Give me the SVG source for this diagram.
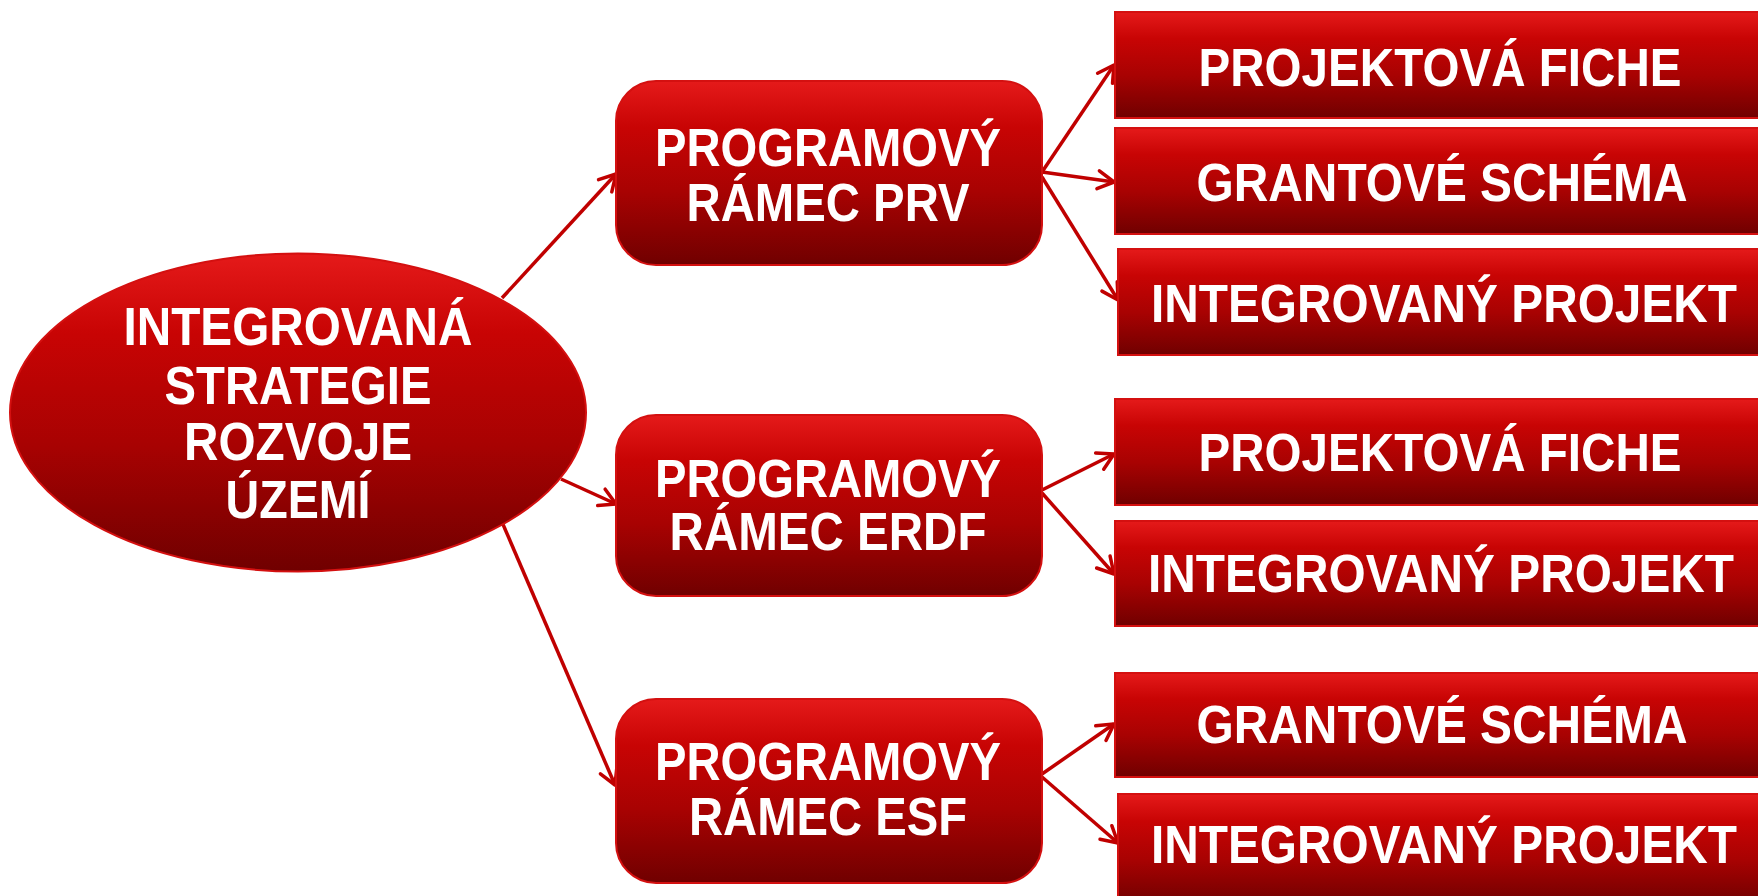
<svg xmlns="http://www.w3.org/2000/svg" width="1758" height="896" viewBox="0 0 1758 896">
<defs>
<linearGradient id="g" x1="0" y1="0" x2="0" y2="1">
<stop offset="0" stop-color="#e51a1a"/>
<stop offset="0.25" stop-color="#c80404"/>
<stop offset="0.6" stop-color="#a80202"/>
<stop offset="1" stop-color="#700000"/>
</linearGradient>
<marker id="a" markerUnits="userSpaceOnUse" viewBox="0 0 24 24" refX="21" refY="12" markerWidth="24" markerHeight="24" orient="auto">
<path d="M5,3 L21,12 L5,21" fill="none" stroke="#c00000" stroke-width="3.5" stroke-linecap="round" stroke-linejoin="round"/>
</marker>
</defs>
<style>
.n{fill:url(#g);stroke:#d41010;stroke-width:2}
.t{font-family:"Liberation Sans",Arial,sans-serif;font-weight:bold;font-size:53px;fill:#fff;text-anchor:middle}
.c line{stroke:#c00000;stroke-width:3.5;fill:none;marker-end:url(#a)}
</style>
<rect width="1758" height="896" fill="#fff"/>
<g class="c" id="connectors">
<line x1="502" y1="298" x2="616" y2="174"/>
<line x1="561" y1="479" x2="616" y2="504"/>
<line x1="502" y1="522" x2="615" y2="785"/>
<line x1="1042" y1="172" x2="1114" y2="65"/>
<line x1="1042" y1="172" x2="1114" y2="182"/>
<line x1="1042" y1="177" x2="1118" y2="300"/>
<line x1="1042" y1="490" x2="1114" y2="454"/>
<line x1="1042" y1="493" x2="1114" y2="574"/>
<line x1="1042" y1="774" x2="1114" y2="724"/>
<line x1="1042" y1="777" x2="1118" y2="843"/>
</g>
<g id="root">
<ellipse class="n" cx="298" cy="412.5" rx="288" ry="159"/>
<text class="t"><tspan x="298" y="345" textLength="349" lengthAdjust="spacingAndGlyphs">INTEGROVANÁ</tspan><tspan x="298" y="404" textLength="267" lengthAdjust="spacingAndGlyphs">STRATEGIE</tspan><tspan x="298" y="460" textLength="228" lengthAdjust="spacingAndGlyphs">ROZVOJE</tspan><tspan x="298" y="518" textLength="145" lengthAdjust="spacingAndGlyphs">ÚZEMÍ</tspan></text>
</g>
<g id="prv">
<rect class="n" x="616" y="81" width="426" height="184" rx="40"/>
<text class="t"><tspan x="828" y="166" textLength="346" lengthAdjust="spacingAndGlyphs">PROGRAMOVÝ</tspan><tspan x="828" y="221" textLength="283" lengthAdjust="spacingAndGlyphs">RÁMEC PRV</tspan></text>
</g>
<g id="erdf">
<rect class="n" x="616" y="415" width="426" height="181" rx="40"/>
<text class="t"><tspan x="828" y="497" textLength="346" lengthAdjust="spacingAndGlyphs">PROGRAMOVÝ</tspan><tspan x="828" y="550" textLength="317" lengthAdjust="spacingAndGlyphs">RÁMEC ERDF</tspan></text>
</g>
<g id="esf">
<rect class="n" x="616" y="699" width="426" height="184" rx="40"/>
<text class="t"><tspan x="828" y="780" textLength="346" lengthAdjust="spacingAndGlyphs">PROGRAMOVÝ</tspan><tspan x="828" y="835" textLength="278" lengthAdjust="spacingAndGlyphs">RÁMEC ESF</tspan></text>
</g>
<g id="prv-pf">
<rect class="n" x="1115" y="12" width="660" height="106"/>
<text class="t" x="1440" y="86" textLength="483" lengthAdjust="spacingAndGlyphs">PROJEKTOVÁ FICHE</text>
</g>
<g id="prv-gs">
<rect class="n" x="1115" y="128" width="660" height="106"/>
<text class="t" x="1442" y="201" textLength="491" lengthAdjust="spacingAndGlyphs">GRANTOVÉ SCHÉMA</text>
</g>
<g id="prv-ip">
<rect class="n" x="1118" y="249" width="660" height="106"/>
<text class="t" x="1444" y="322" textLength="586" lengthAdjust="spacingAndGlyphs">INTEGROVANÝ PROJEKT</text>
</g>
<g id="erdf-pf">
<rect class="n" x="1115" y="399" width="660" height="106"/>
<text class="t" x="1440" y="471" textLength="483" lengthAdjust="spacingAndGlyphs">PROJEKTOVÁ FICHE</text>
</g>
<g id="erdf-ip">
<rect class="n" x="1115" y="521" width="660" height="105"/>
<text class="t" x="1441" y="592" textLength="586" lengthAdjust="spacingAndGlyphs">INTEGROVANÝ PROJEKT</text>
</g>
<g id="esf-gs">
<rect class="n" x="1115" y="673" width="660" height="104"/>
<text class="t" x="1442" y="743" textLength="491" lengthAdjust="spacingAndGlyphs">GRANTOVÉ SCHÉMA</text>
</g>
<g id="esf-ip">
<rect class="n" x="1118" y="794" width="660" height="110"/>
<text class="t" x="1444" y="863" textLength="586" lengthAdjust="spacingAndGlyphs">INTEGROVANÝ PROJEKT</text>
</g>
</svg>
